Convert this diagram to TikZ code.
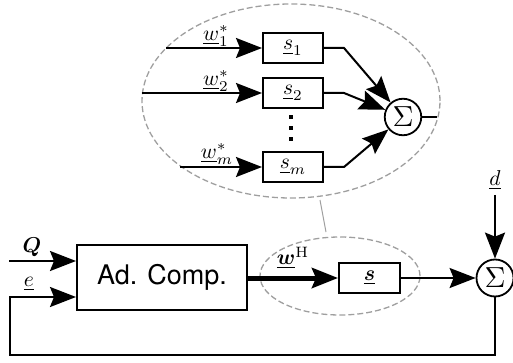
\documentclass[tikz,border=0pt]{standalone}
\usepackage{amsmath}
\usepackage{graphicx}
\usepackage{fontspec}
\setsansfont{TeX Gyre Heros}
\usetikzlibrary{arrows.meta,shapes.geometric,calc}
\newcommand{\myscm}[1]{\scalebox{2.15}{$#1$}}
\newcommand{\mysig}{\scalebox{2.9}{$\Sigma$}}
\begin{document}
\begin{tikzpicture}[x=1pt,y=-1pt,
  ln/.style={line width=2pt},
  tip/.tip={Stealth[length=26pt,width=20pt,inset=4pt]},
  arr/.style={ln,-tip},
  blk/.style={draw,line width=2pt,rectangle,minimum width=60pt,minimum height=30pt,inner sep=0pt},
  sumc/.style={draw,line width=1.8pt,circle,minimum size=37pt,inner sep=0pt},
  grayell/.style={draw=gray!75,line width=1.3pt,dash pattern=on 6pt off 3pt,ellipse,inner sep=0pt},
  lbl/.style={inner sep=0pt}]
\useasboundingbox (0,0) rectangle (513,363);
% top detail
\node[grayell,minimum width=298pt,minimum height=194pt] (bigell) at (291,101) {};
\node[blk] (s1) at (293,48) {\myscm{\underline{s}_1}};
\node[blk] (s2) at (293,93) {\myscm{\underline{s}_2}};
\node[blk] (sm) at (293,167) {\myscm{\underline{s}_m}};
\node[sumc,minimum size=36.5pt] (sum1) at (403,117) {\mysig};
\coordinate (w1in) at (166,48);
\coordinate (w2in) at (142,93);
\coordinate (wmin) at (180,167);
\draw[arr] (w1in) -- (s1.west);
\draw[arr] (w2in) -- (s2.west);
\draw[arr] (wmin) -- (sm.west);
\node[lbl] (w1l) at (216,36) {\myscm{\underline{w}_1^*}};
\node[lbl] (w2l) at (216,81) {\myscm{\underline{w}_2^*}};
\node[lbl] (wml) at (217,154) {\myscm{\underline{w}_m^*}};
\draw[arr] (s1.east) -- ++(20,0) -- (sum1);
\draw[arr] (s2.east) -- ++(20,0) -- (sum1);
\draw[arr] (sm.east) -- ++(20,0) -- (sum1);
\coordinate (sum1out) at (437,117);
\draw[ln] (sum1.east) -- (sum1out);
\foreach \yy in {117,128,139} \fill (289,\yy-2) rectangle (293,\yy+2);
% bottom
\node[draw,line width=2pt,rectangle,minimum width=170pt,minimum height=65pt,inner sep=0pt,font=\sffamily\fontsize{27}{30}\selectfont] (adc) at (162,277.5) {Ad. Comp.};
\node[grayell,minimum width=160pt,minimum height=78pt] (smallell) at (340,276) {};
\node[blk,minimum width=61pt] (sbox) at (369.5,278) {\myscm{\underline{\boldsymbol{s}}}};
\node[sumc] (sum2) at (495,278) {\mysig};
\coordinate (c1) at (320,200);
\coordinate (c2) at (326,232);
\draw[gray!75,line width=1pt] (c1) -- (c2);
\coordinate (qin) at (9,261);
\draw[arr] (qin) -- (qin -| adc.west);
\node[lbl] (ql) at (32,247) {\myscm{\boldsymbol{Q}}};
\coordinate (fb1) at (495,355);
\coordinate (fb2) at (10,355);
\coordinate (fb3) at (10,297);
\draw[arr] (sum2.south) -- (fb1) -- (fb2) -- (fb3) -- (fb3 -| adc.west);
\node[lbl] (el) at (29,284) {\myscm{\underline{e}}};
\draw[line width=5pt,-tip] (adc.east |- sbox.west) -- (sbox.west);
\node[lbl] (wl) at (293,258) {\myscm{\underline{\boldsymbol{w}}^{\mathrm{H}}}};
\draw[arr] (sbox.east) -- (sum2.west);
\coordinate (din) at (495,195);
\draw[arr] (din) -- (sum2.north);
\node[lbl] (dl) at (495,180) {\myscm{\underline{d}}};
\end{tikzpicture}
\end{document}
